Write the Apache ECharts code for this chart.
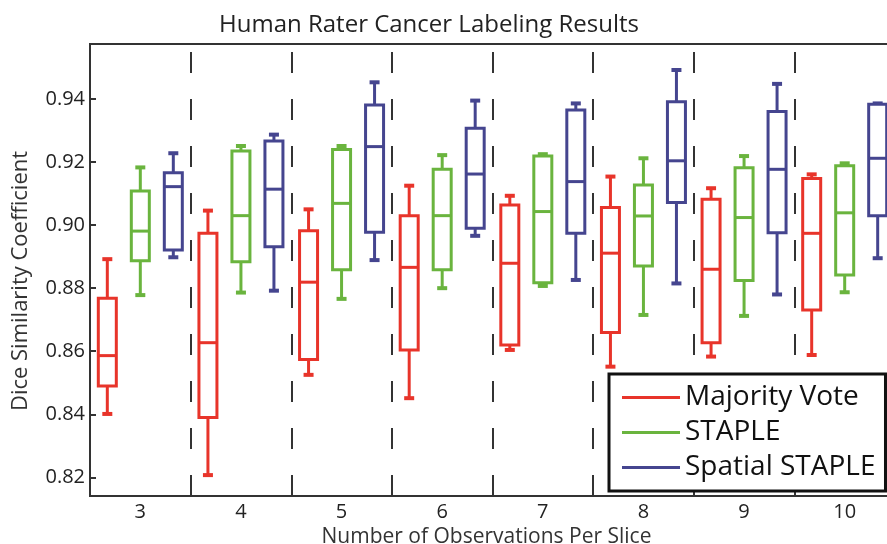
<!DOCTYPE html>
<html>
<head>
<meta charset="utf-8">
<script src="https://cdn.jsdelivr.net/npm/echarts@6/dist/echarts.min.js"></script>
<style>
  html, body { margin: 0; padding: 0; background: #fff; }
  #chart { width: 887px; height: 544px; }
</style>
</head>
<body>
<div id="chart"></div>
<script>
// ---- data: [low whisker, Q1, median, Q3, high whisker] per category ----
const categories = ['3', '4', '5', '6', '7', '8', '9', '10'];
const yTicks = [0.82, 0.84, 0.86, 0.88, 0.90, 0.92, 0.94];
const seriesNames = ['Majority Vote', 'STAPLE', 'Spatial STAPLE'];

const majorityVote = [
  [0.8401, 0.8490, 0.8586, 0.8768, 0.8892],
  [0.8207, 0.8390, 0.8627, 0.8974, 0.9046],
  [0.8525, 0.8574, 0.8819, 0.8982, 0.9050],
  [0.8451, 0.8604, 0.8866, 0.9030, 0.9125],
  [0.8604, 0.8620, 0.8879, 0.9064, 0.9093],
  [0.8551, 0.8659, 0.8911, 0.9056, 0.9154],
  [0.8583, 0.8627, 0.8860, 0.9082, 0.9117],
  [0.8588, 0.8731, 0.8974, 0.9148, 0.9161]
];
const staple = [
  [0.8778, 0.8887, 0.8981, 0.9108, 0.9183],
  [0.8786, 0.8884, 0.9030, 0.9235, 0.9251],
  [0.8766, 0.8858, 0.9069, 0.9240, 0.9251],
  [0.8800, 0.8858, 0.9030, 0.9177, 0.9222],
  [0.8807, 0.8817, 0.9043, 0.9219, 0.9225],
  [0.8715, 0.8870, 0.9029, 0.9127, 0.9212],
  [0.8712, 0.8824, 0.9024, 0.9182, 0.9219],
  [0.8787, 0.8842, 0.9039, 0.9188, 0.9196]
];
const spatialStaple = [
  [0.8898, 0.8921, 0.9122, 0.9166, 0.9228],
  [0.8792, 0.8931, 0.9114, 0.9267, 0.9287],
  [0.8889, 0.8977, 0.9249, 0.9381, 0.9453],
  [0.8966, 0.8990, 0.9162, 0.9307, 0.9395],
  [0.8826, 0.8974, 0.9138, 0.9365, 0.9386],
  [0.8815, 0.9072, 0.9204, 0.9391, 0.9492],
  [0.8780, 0.8976, 0.9177, 0.9360, 0.9448],
  [0.8895, 0.9030, 0.9212, 0.9383, 0.9386]
];

// ---- styling ----
const colors = ['#e8342a', '#6ab43e', '#45458f'];
const offsets = [-33, 0, 33];
const FONT = '"Open Sans", "Noto Sans", sans-serif';

function makeRenderer(offset, color) {
  return function (params, api) {
    const c = api.value(0);
    const pLow = api.coord([c, api.value(1)]);
    const pQ1 = api.coord([c, api.value(2)]);
    const pMed = api.coord([c, api.value(3)]);
    const pQ3 = api.coord([c, api.value(4)]);
    const pHigh = api.coord([c, api.value(5)]);
    const x = pLow[0] + offset;
    const hw = 9;   // half box width
    const cw = 5;   // half cap width
    const line = { stroke: color, lineWidth: 3, fill: null };
    const cap = { stroke: color, lineWidth: 4, fill: null };
    return {
      type: 'group',
      children: [
        { type: 'line', shape: { x1: x, y1: pHigh[1], x2: x, y2: pQ3[1] }, style: line },
        { type: 'line', shape: { x1: x, y1: pQ1[1], x2: x, y2: pLow[1] }, style: line },
        { type: 'line', shape: { x1: x - cw, y1: pHigh[1], x2: x + cw, y2: pHigh[1] }, style: cap },
        { type: 'line', shape: { x1: x - cw, y1: pLow[1], x2: x + cw, y2: pLow[1] }, style: cap },
        { type: 'rect', shape: { x: x - hw, y: pQ3[1], width: 2 * hw, height: pQ1[1] - pQ3[1] },
          style: { stroke: color, lineWidth: 3, fill: '#fff' } },
        { type: 'line', shape: { x1: x - hw, y1: pMed[1], x2: x + hw, y2: pMed[1] }, style: line }
      ]
    };
  };
}

const allData = [majorityVote, staple, spatialStaple];
const series = allData.map(function (arr, i) {
  return {
    name: seriesNames[i],
    type: 'custom',
    renderItem: makeRenderer(offsets[i], colors[i]),
    itemStyle: { color: colors[i] },
    encode: { x: 0, y: [1, 2, 3, 4, 5] },
    clip: false,
    z: 3,
    data: arr.map(function (d, k) { return [k].concat(d); })
  };
});

const chart = echarts.init(document.getElementById('chart'), null, { renderer: 'canvas' });
chart.setOption({
  animation: false,
  backgroundColor: '#fff',
  title: {
    text: 'Human Rater Cancer Labeling Results',
    left: 424, textAlign: 'center', top: 8,
    textStyle: { fontFamily: FONT, fontSize: 24, fontWeight: 'normal', color: '#222' }
  },
  grid: {
    left: 90, top: 44, width: 805, height: 452,
    outerBoundsMode: 'none',
    containLabel: false,
    show: true, borderColor: '#333', borderWidth: 2, backgroundColor: '#fff'
  },
  legend: {
    orient: 'vertical',
    left: 609, top: 374,
    data: seriesNames.map(function (n, i) {
      return { name: n, itemStyle: { color: colors[i], borderWidth: 0 } };
    }),
    icon: 'rect',
    itemWidth: 58, itemHeight: 3, itemGap: 0,
    padding: [6, 10, 6, 13],
    backgroundColor: '#fff',
    borderColor: '#111', borderWidth: 3,
    textStyle: { fontFamily: FONT, fontSize: 28, color: '#111', lineHeight: 35 },
    z: 10
  },
  xAxis: {
    type: 'category',
    data: categories,
    boundaryGap: true,
    name: 'Number of Observations Per Slice',
    nameLocation: 'middle', nameGap: 31,
    nameMoveOverlap: false,
    nameTextStyle: { fontFamily: FONT, fontSize: 21, color: '#333', padding: [0, 12, 0, 0] },
    axisLine: { lineStyle: { color: '#333', width: 2 } },
    axisTick: { show: true, inside: true, length: 7, lineStyle: { color: '#333', width: 2 } },
    axisLabel: { fontFamily: FONT, fontSize: 20, color: '#222', margin: 6 },
    splitLine: {
      show: true,
      lineStyle: { color: '#333', width: 2, type: [21, 26], dashOffset: 39 }
    }
  },
  yAxis: {
    type: 'value',
    min: 0.81407, max: 0.95745,
    name: 'Dice Similarity Coefficient',
    nameLocation: 'middle', nameGap: 58, nameRotate: 90,
    nameTextStyle: { fontFamily: FONT, fontSize: 22, color: '#333', padding: [0, 22, 0, 0] },
    axisLine: { show: true, lineStyle: { color: '#333', width: 2 } },
    axisTick: { show: true, inside: true, length: 6, customValues: yTicks,
      lineStyle: { color: '#333', width: 2 } },
    axisLabel: { fontFamily: FONT, fontSize: 20, color: '#222', margin: 5,
      customValues: yTicks,
      formatter: function (v) { return v.toFixed(2); } },
    splitLine: { show: false }
  },
  series: series
});
</script>
</body>
</html>
